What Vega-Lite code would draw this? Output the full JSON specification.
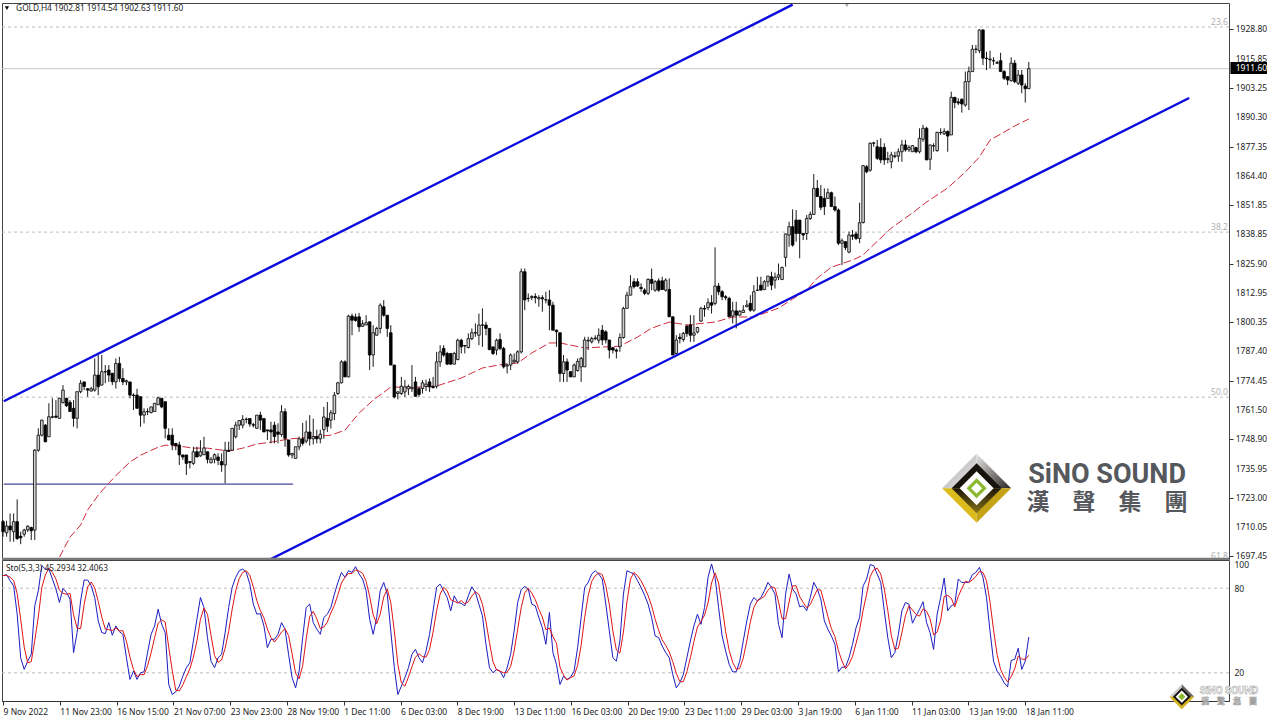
{"$schema":"https://vega.github.io/schema/vega-lite/v6.json","background":"white","padding":{"left":0,"top":2,"right":0,"bottom":0},"bounds":"flush","spacing":1,
"config":{"view":{"stroke":"#444","strokeWidth":1},"font":"Noto Sans","axis":{"labelFont":"Noto Sans","labelFontSize":8.5,"labelColor":"#222","tickColor":"#333"}},
"datasets":{
"bars":[
{"i":0,"o":1712.6,"h":1713.3,"l":1706,"c":1708.2,"k":88.9,"d":89},
{"i":1,"o":1707.7,"h":1713,"l":1706,"c":1710.7,"k":89.6,"d":89},
{"i":2,"o":1710.7,"h":1716.2,"l":1703.8,"c":1709,"k":85.3,"d":87.9},
{"i":3,"o":1708.2,"h":1716.2,"l":1703.8,"c":1712.6,"k":81.7,"d":85.5},
{"i":4,"o":1712.6,"h":1722.4,"l":1704.5,"c":1705.2,"k":61.6,"d":76.2},
{"i":5,"o":1706.2,"h":1708.2,"l":1702.7,"c":1705.5,"k":30.7,"d":58},
{"i":6,"o":1707.1,"h":1709.5,"l":1706,"c":1708.9,"k":22.4,"d":38.2},
{"i":7,"o":1709,"h":1711,"l":1708,"c":1710.6,"k":28.3,"d":27.1},
{"i":8,"o":1710,"h":1710.4,"l":1704.5,"c":1708.6,"k":33.1,"d":27.9},
{"i":9,"o":1708.9,"h":1744.5,"l":1704.5,"c":1744,"k":67.5,"d":43},
{"i":10,"o":1744,"h":1753.6,"l":1743.3,"c":1750.6,"k":78.2,"d":59.6},
{"i":11,"o":1750.6,"h":1757.4,"l":1750,"c":1757.2,"k":96,"d":80.6},
{"i":12,"o":1755,"h":1755.5,"l":1747.5,"c":1747.7,"k":93.6,"d":89.3},
{"i":13,"o":1749.9,"h":1764.6,"l":1749.9,"c":1758.7,"k":93.6,"d":94.4},
{"i":14,"o":1758.4,"h":1766.8,"l":1758,"c":1758.7,"k":86.5,"d":91.2},
{"i":15,"o":1759,"h":1766,"l":1758,"c":1758.5,"k":79.4,"d":86.5},
{"i":16,"o":1758,"h":1767,"l":1757.9,"c":1766.8,"k":69.9,"d":78.6},
{"i":17,"o":1764.9,"h":1772.6,"l":1764.5,"c":1770.4,"k":79.8,"d":76.4},
{"i":18,"o":1766.8,"h":1767,"l":1763,"c":1763.5,"k":77,"d":75.6},
{"i":19,"o":1765,"h":1766,"l":1760.9,"c":1761,"k":72.3,"d":76.4},
{"i":20,"o":1762.4,"h":1766,"l":1754.3,"c":1758,"k":34.3,"d":61.2},
{"i":21,"o":1758,"h":1769.7,"l":1753.6,"c":1769.7,"k":48.5,"d":51.7},
{"i":22,"o":1769.7,"h":1774.8,"l":1769,"c":1773.4,"k":71,"d":51.3},
{"i":23,"o":1774,"h":1774,"l":1770.4,"c":1772,"k":85.8,"d":68.4},
{"i":24,"o":1771,"h":1771.2,"l":1767.5,"c":1770.4,"k":85.8,"d":80.9},
{"i":25,"o":1770,"h":1771.9,"l":1769.7,"c":1771,"k":81.7,"d":84.4},
{"i":26,"o":1770.4,"h":1784.3,"l":1769.7,"c":1777,"k":73.4,"d":80.3},
{"i":27,"o":1777,"h":1785.8,"l":1768.2,"c":1771.9,"k":56.8,"d":70.6},
{"i":28,"o":1772.6,"h":1785.8,"l":1772.5,"c":1778.5,"k":48.5,"d":59.6},
{"i":29,"o":1778.5,"h":1781.4,"l":1773.4,"c":1778.4,"k":47.8,"d":51},
{"i":30,"o":1779.2,"h":1781.4,"l":1774,"c":1777,"k":55.6,"d":50.6},
{"i":31,"o":1777.8,"h":1777.8,"l":1772.6,"c":1774.1,"k":46.6,"d":50},
{"i":32,"o":1774,"h":1784.3,"l":1771.1,"c":1782.1,"k":53.3,"d":51.8},
{"i":33,"o":1782.1,"h":1785,"l":1774,"c":1775.5,"k":49.2,"d":49.7},
{"i":34,"o":1775.5,"h":1780,"l":1772.6,"c":1774,"k":47.3,"d":49.9},
{"i":35,"o":1774,"h":1775,"l":1772.6,"c":1774.5,"k":30.7,"d":42.4},
{"i":36,"o":1774,"h":1774,"l":1766.8,"c":1768.2,"k":15.3,"d":31.1},
{"i":37,"o":1768.2,"h":1769,"l":1761.6,"c":1768,"k":21.2,"d":22.4},
{"i":38,"o":1768.2,"h":1771,"l":1762.4,"c":1762.4,"k":15.3,"d":17.3},
{"i":39,"o":1767.5,"h":1767.5,"l":1754.3,"c":1759.4,"k":20,"d":18.8},
{"i":40,"o":1759.4,"h":1762.4,"l":1755.8,"c":1760.9,"k":20.7,"d":18.7},
{"i":41,"o":1760.9,"h":1762.4,"l":1759.4,"c":1761,"k":34.3,"d":25},
{"i":42,"o":1760.5,"h":1763.1,"l":1760.2,"c":1763,"k":47.3,"d":34.1},
{"i":43,"o":1761,"h":1764.6,"l":1761,"c":1764.6,"k":53.3,"d":45},
{"i":44,"o":1764,"h":1767.5,"l":1763.8,"c":1767,"k":65.1,"d":55.2},
{"i":45,"o":1766.8,"h":1766.8,"l":1762.4,"c":1763,"k":54.4,"d":57.6},
{"i":46,"o":1765.3,"h":1765.3,"l":1749.2,"c":1753.6,"k":48.5,"d":56},
{"i":47,"o":1750.6,"h":1753.6,"l":1748.4,"c":1748.5,"k":11.7,"d":38.2},
{"i":48,"o":1750.6,"h":1753.6,"l":1744,"c":1746.3,"k":4.6,"d":21.6},
{"i":49,"o":1747,"h":1747,"l":1744,"c":1746,"k":6.5,"d":7.6},
{"i":50,"o":1746.3,"h":1747.7,"l":1737.5,"c":1741.9,"k":10.5,"d":7.2},
{"i":51,"o":1741.9,"h":1742,"l":1739.7,"c":1741,"k":17.6,"d":11.5},
{"i":52,"o":1741.9,"h":1741.9,"l":1733.1,"c":1738.2,"k":23.6,"d":17.2},
{"i":53,"o":1739,"h":1739,"l":1736,"c":1738.6,"k":27.1,"d":22.8},
{"i":54,"o":1738.2,"h":1745.5,"l":1737.5,"c":1743.3,"k":42.6,"d":31.1},
{"i":55,"o":1743.3,"h":1745.5,"l":1741,"c":1741,"k":58,"d":42.6},
{"i":56,"o":1741.5,"h":1748.4,"l":1741.1,"c":1743.3,"k":73.4,"d":58},
{"i":57,"o":1742,"h":1749.9,"l":1741.9,"c":1745,"k":66.3,"d":65.9},
{"i":58,"o":1743.3,"h":1743.3,"l":1738.2,"c":1740,"k":44.9,"d":61.5},
{"i":59,"o":1738.5,"h":1741,"l":1738.2,"c":1740,"k":28.3,"d":46.5},
{"i":60,"o":1740,"h":1742.6,"l":1738.2,"c":1742,"k":23.6,"d":32.3},
{"i":61,"o":1741,"h":1742.6,"l":1737.5,"c":1739.5,"k":30.7,"d":27.5},
{"i":62,"o":1739,"h":1742.6,"l":1734.5,"c":1737.5,"k":33.1,"d":29.1},
{"i":63,"o":1737.5,"h":1747.7,"l":1729.4,"c":1744,"k":48.5,"d":37.4},
{"i":64,"o":1744,"h":1747.7,"l":1743.3,"c":1743.5,"k":66.3,"d":49.3},
{"i":65,"o":1744,"h":1753.6,"l":1744,"c":1753.6,"k":80.6,"d":65.1},
{"i":66,"o":1749.9,"h":1756.5,"l":1749.2,"c":1755,"k":87.7,"d":78.2},
{"i":67,"o":1755,"h":1757.2,"l":1752.9,"c":1757,"k":92.4,"d":86.9},
{"i":68,"o":1755,"h":1759.4,"l":1753.6,"c":1757.5,"k":93.6,"d":91.2},
{"i":69,"o":1757.5,"h":1758.4,"l":1755.8,"c":1757.6,"k":91.2,"d":92.4},
{"i":70,"o":1757.9,"h":1757.9,"l":1754.3,"c":1755.5,"k":82.9,"d":89.2},
{"i":71,"o":1755.2,"h":1756,"l":1754,"c":1755,"k":68.7,"d":80.9},
{"i":72,"o":1753.6,"h":1759.4,"l":1753.6,"c":1759.4,"k":61.6,"d":71.1},
{"i":73,"o":1759.4,"h":1760.9,"l":1752.9,"c":1757.2,"k":62,"d":64.1},
{"i":74,"o":1757.9,"h":1757.9,"l":1752,"c":1752,"k":53.3,"d":59},
{"i":75,"o":1752.9,"h":1753,"l":1748.5,"c":1752.5,"k":37.8,"d":51},
{"i":76,"o":1752.9,"h":1756.5,"l":1747,"c":1752,"k":43.8,"d":45},
{"i":77,"o":1755,"h":1756.5,"l":1747,"c":1750,"k":43.8,"d":41.8},
{"i":78,"o":1752,"h":1755.8,"l":1747,"c":1751,"k":47.3,"d":45},
{"i":79,"o":1750.9,"h":1763.8,"l":1749.9,"c":1760.9,"k":55.6,"d":48.9},
{"i":80,"o":1760.9,"h":1762.4,"l":1745.5,"c":1749.2,"k":50.9,"d":51.3},
{"i":81,"o":1748.5,"h":1748.5,"l":1741.1,"c":1741.9,"k":33.1,"d":46.5},
{"i":82,"o":1741.9,"h":1742.6,"l":1740.4,"c":1742.6,"k":16.5,"d":33.5},
{"i":83,"o":1740.4,"h":1745.5,"l":1740.4,"c":1745.5,"k":9.3,"d":19.6},
{"i":84,"o":1745.5,"h":1750,"l":1744,"c":1749,"k":21.2,"d":15.7},
{"i":85,"o":1749,"h":1756,"l":1746,"c":1747,"k":44.9,"d":25.1},
{"i":86,"o":1748,"h":1757,"l":1747,"c":1752,"k":66.3,"d":44.1},
{"i":87,"o":1752,"h":1759.4,"l":1746,"c":1749,"k":68.7,"d":60},
{"i":88,"o":1749,"h":1757.9,"l":1746.5,"c":1750,"k":55.6,"d":63.5},
{"i":89,"o":1750,"h":1753,"l":1747,"c":1749,"k":50.9,"d":58.4},
{"i":90,"o":1749,"h":1753,"l":1747,"c":1751,"k":47.3,"d":51.3},
{"i":91,"o":1753,"h":1763,"l":1749,"c":1758.6,"k":59.2,"d":52.5},
{"i":92,"o":1758,"h":1765.2,"l":1752,"c":1754.5,"k":61.6,"d":56},
{"i":93,"o":1757.2,"h":1761.6,"l":1753.5,"c":1760.4,"k":66.3,"d":62.4},
{"i":94,"o":1760.1,"h":1769.6,"l":1757.2,"c":1768.2,"k":75.8,"d":67.9},
{"i":95,"o":1768.9,"h":1774,"l":1768.2,"c":1773.6,"k":84.1,"d":75.4},
{"i":96,"o":1773.6,"h":1783.5,"l":1773.3,"c":1782.8,"k":91.2,"d":83.7},
{"i":97,"o":1782.8,"h":1783.5,"l":1776.2,"c":1776.2,"k":87.7,"d":87.7},
{"i":98,"o":1776.2,"h":1803.5,"l":1776,"c":1802.9,"k":92.4,"d":90.4},
{"i":99,"o":1802.9,"h":1804,"l":1794.5,"c":1801.1,"k":91.2,"d":90.4},
{"i":100,"o":1802.5,"h":1804,"l":1800.4,"c":1801,"k":95.3,"d":93},
{"i":101,"o":1802.6,"h":1804.3,"l":1796,"c":1798.2,"k":90.1,"d":92.2},
{"i":102,"o":1798.4,"h":1801.1,"l":1798.2,"c":1799.5,"k":86.5,"d":90.6},
{"i":103,"o":1799,"h":1803.3,"l":1799,"c":1800,"k":78.2,"d":84.9},
{"i":104,"o":1800.4,"h":1800.4,"l":1779.2,"c":1785.8,"k":58,"d":74.2},
{"i":105,"o":1785.8,"h":1798.9,"l":1780.6,"c":1795.6,"k":47.3,"d":61.2},
{"i":106,"o":1794.5,"h":1798.2,"l":1794.5,"c":1797.5,"k":59.2,"d":54.8},
{"i":107,"o":1797.5,"h":1808.5,"l":1795.3,"c":1807.7,"k":78.2,"d":61.6},
{"i":108,"o":1807,"h":1809.9,"l":1802.6,"c":1803.3,"k":84.1,"d":73.8},
{"i":109,"o":1803.3,"h":1803.3,"l":1793.8,"c":1797.5,"k":75.8,"d":79.4},
{"i":110,"o":1795.6,"h":1798.9,"l":1781.4,"c":1781.4,"k":49.7,"d":69.9},
{"i":111,"o":1781.4,"h":1781.4,"l":1766.7,"c":1767.4,"k":23.6,"d":49.7},
{"i":112,"o":1768.9,"h":1769.9,"l":1766.3,"c":1769.6,"k":4.6,"d":26},
{"i":113,"o":1768.9,"h":1776.2,"l":1768.2,"c":1772.1,"k":10.5,"d":12.9},
{"i":114,"o":1769.6,"h":1774.8,"l":1767.4,"c":1771.8,"k":16.5,"d":10.5},
{"i":115,"o":1771,"h":1772.8,"l":1768.2,"c":1772,"k":23.6,"d":16.9},
{"i":116,"o":1771,"h":1781.4,"l":1769.6,"c":1771.5,"k":33.1,"d":24.4},
{"i":117,"o":1774,"h":1776.2,"l":1767.4,"c":1767.7,"k":36.6,"d":31.1},
{"i":118,"o":1771,"h":1771.8,"l":1767.4,"c":1768.5,"k":30.7,"d":33.5},
{"i":119,"o":1771.1,"h":1774.8,"l":1768.9,"c":1773.6,"k":27.1,"d":31.5},
{"i":120,"o":1772,"h":1775,"l":1770,"c":1773,"k":35.5,"d":31.1},
{"i":121,"o":1774,"h":1775.5,"l":1769.6,"c":1771.8,"k":47.3,"d":36.6},
{"i":122,"o":1772,"h":1776.2,"l":1771.1,"c":1771.5,"k":64,"d":48.9},
{"i":123,"o":1772.1,"h":1787.2,"l":1771.1,"c":1782.8,"k":80.6,"d":64},
{"i":124,"o":1782.8,"h":1790.1,"l":1780.6,"c":1787.2,"k":82.9,"d":75.8},
{"i":125,"o":1788.7,"h":1790.1,"l":1785,"c":1785.8,"k":78.2,"d":80.6},
{"i":126,"o":1786.5,"h":1787.2,"l":1781.4,"c":1781.8,"k":73.4,"d":78.2},
{"i":127,"o":1786.5,"h":1786.5,"l":1781.4,"c":1781.8,"k":64,"d":71.9},
{"i":128,"o":1781.8,"h":1787.2,"l":1781.8,"c":1786.5,"k":74.6,"d":70.7},
{"i":129,"o":1783.8,"h":1793,"l":1783.5,"c":1792.3,"k":69.9,"d":69.5},
{"i":130,"o":1792.3,"h":1793,"l":1786.5,"c":1789.4,"k":69.2,"d":71.2},
{"i":131,"o":1790,"h":1790.1,"l":1786.5,"c":1789.8,"k":67.5,"d":68.9},
{"i":132,"o":1789.1,"h":1795.3,"l":1788.7,"c":1793,"k":74.6,"d":70.4},
{"i":133,"o":1793,"h":1797.5,"l":1792.3,"c":1795.6,"k":81,"d":74.4},
{"i":134,"o":1795.6,"h":1799.7,"l":1793.8,"c":1795.5,"k":77,"d":77.5},
{"i":135,"o":1794.5,"h":1804,"l":1790.1,"c":1799,"k":68.7,"d":75.6},
{"i":136,"o":1798.9,"h":1806.3,"l":1789.4,"c":1799,"k":60.4,"d":68.7},
{"i":137,"o":1799,"h":1800.4,"l":1794.5,"c":1797.5,"k":40.2,"d":56.4},
{"i":138,"o":1797.5,"h":1797.5,"l":1787.9,"c":1788.2,"k":23.6,"d":41.4},
{"i":139,"o":1789.4,"h":1789.4,"l":1785.8,"c":1786.5,"k":20,"d":27.9},
{"i":140,"o":1788,"h":1793,"l":1785.8,"c":1792.3,"k":22.4,"d":22},
{"i":141,"o":1792.6,"h":1795.3,"l":1787.9,"c":1788.7,"k":21.2,"d":21.2},
{"i":142,"o":1788.7,"h":1789.4,"l":1779.9,"c":1780.6,"k":16.5,"d":20},
{"i":143,"o":1781,"h":1782,"l":1777.7,"c":1781.4,"k":23.6,"d":20.4},
{"i":144,"o":1781.4,"h":1786.5,"l":1779.2,"c":1785.8,"k":33.1,"d":24.4},
{"i":145,"o":1782.8,"h":1786.5,"l":1782.1,"c":1783.5,"k":49.7,"d":35.5},
{"i":146,"o":1782.8,"h":1787.9,"l":1782.1,"c":1787.2,"k":69.9,"d":50.9},
{"i":147,"o":1787.2,"h":1823.8,"l":1786.5,"c":1822.4,"k":79,"d":66.2},
{"i":148,"o":1822.4,"h":1823.8,"l":1805.5,"c":1810,"k":81.3,"d":76.7},
{"i":149,"o":1810.6,"h":1812.9,"l":1809.2,"c":1810.7,"k":79.4,"d":79.9},
{"i":150,"o":1811,"h":1812.1,"l":1809.9,"c":1811.5,"k":68.7,"d":76.5},
{"i":151,"o":1811.5,"h":1812.9,"l":1808.5,"c":1811,"k":67.5,"d":71.9},
{"i":152,"o":1810.5,"h":1812.1,"l":1807,"c":1811,"k":59.2,"d":65.1},
{"i":153,"o":1811,"h":1812.1,"l":1804.8,"c":1810.5,"k":52,"d":59.6},
{"i":154,"o":1810,"h":1813.6,"l":1808.5,"c":1810.1,"k":40.2,"d":50.5},
{"i":155,"o":1810,"h":1814.3,"l":1796.7,"c":1807.7,"k":62.8,"d":51.7},
{"i":156,"o":1807.7,"h":1809.2,"l":1796.7,"c":1796.7,"k":34.3,"d":45.8},
{"i":157,"o":1796.7,"h":1797,"l":1789.4,"c":1796,"k":26,"d":41},
{"i":158,"o":1795.6,"h":1795.6,"l":1774,"c":1777.7,"k":11.7,"d":24},
{"i":159,"o":1777.7,"h":1785.8,"l":1774,"c":1782.8,"k":17.6,"d":18.4},
{"i":160,"o":1782.8,"h":1784.3,"l":1774,"c":1779.2,"k":15.3,"d":14.9},
{"i":161,"o":1778.5,"h":1778.5,"l":1776.2,"c":1776.2,"k":16.9,"d":16.6},
{"i":162,"o":1776.2,"h":1782.1,"l":1776.2,"c":1781.4,"k":21.2,"d":17.8},
{"i":163,"o":1779,"h":1784.3,"l":1778.5,"c":1783,"k":37.8,"d":25.3},
{"i":164,"o":1780.6,"h":1785,"l":1774,"c":1784.3,"k":59.2,"d":39.4},
{"i":165,"o":1780.6,"h":1793.8,"l":1780.6,"c":1792.4,"k":80.6,"d":59.2},
{"i":166,"o":1792,"h":1793.8,"l":1788,"c":1792.3,"k":84.1,"d":74.6},
{"i":167,"o":1791.6,"h":1793.8,"l":1790.9,"c":1793,"k":90,"d":84.9},
{"i":168,"o":1793,"h":1794.5,"l":1792.3,"c":1793.3,"k":92.4,"d":88.8},
{"i":169,"o":1792.3,"h":1797.5,"l":1790.9,"c":1794.5,"k":90,"d":90.8},
{"i":170,"o":1796.7,"h":1799,"l":1790.2,"c":1792.4,"k":86.5,"d":89.6},
{"i":171,"o":1796,"h":1796.7,"l":1790.9,"c":1792.4,"k":68.7,"d":81.7},
{"i":172,"o":1792.4,"h":1792.4,"l":1784.3,"c":1788,"k":49.7,"d":68.3},
{"i":173,"o":1789,"h":1789.4,"l":1786.5,"c":1788,"k":30.7,"d":49.7},
{"i":174,"o":1788,"h":1788.7,"l":1784.3,"c":1787.5,"k":28.3,"d":36.2},
{"i":175,"o":1789.4,"h":1795.3,"l":1787.2,"c":1793.5,"k":42.6,"d":33.9},
{"i":176,"o":1793.5,"h":1807,"l":1793,"c":1806.3,"k":75.8,"d":48.9},
{"i":177,"o":1806.3,"h":1813.6,"l":1806.3,"c":1812.1,"k":92.4,"d":70.3},
{"i":178,"o":1812.1,"h":1820.9,"l":1812.1,"c":1815.8,"k":91.2,"d":86.5},
{"i":179,"o":1818,"h":1819.5,"l":1815,"c":1815.8,"k":90.1,"d":91.2},
{"i":180,"o":1818,"h":1819.5,"l":1815.8,"c":1816.1,"k":85.3,"d":88.9},
{"i":181,"o":1815.5,"h":1817.3,"l":1813.6,"c":1815,"k":80.6,"d":85.3},
{"i":182,"o":1814.3,"h":1815.1,"l":1812.1,"c":1812.9,"k":75,"d":80.3},
{"i":183,"o":1812.9,"h":1819.5,"l":1812.1,"c":1819,"k":68.7,"d":74.8},
{"i":184,"o":1819,"h":1823.8,"l":1814.3,"c":1817.3,"k":59.2,"d":67.6},
{"i":185,"o":1814.3,"h":1818.7,"l":1813.6,"c":1818,"k":46.1,"d":58},
{"i":186,"o":1818.4,"h":1819.5,"l":1813.6,"c":1814.3,"k":44.9,"d":50.1},
{"i":187,"o":1818.4,"h":1820.2,"l":1814.3,"c":1814.6,"k":39,"d":43.3},
{"i":188,"o":1814.3,"h":1819.5,"l":1813.6,"c":1818.7,"k":34.3,"d":39.4},
{"i":189,"o":1814.6,"h":1819.5,"l":1802.6,"c":1802.6,"k":30.7,"d":34.7},
{"i":190,"o":1802.6,"h":1802.6,"l":1785.8,"c":1785.8,"k":18.8,"d":27.9},
{"i":191,"o":1786.5,"h":1794.5,"l":1785.8,"c":1792.4,"k":9.3,"d":19.6},
{"i":192,"o":1793.6,"h":1795.3,"l":1790.9,"c":1793,"k":12.9,"d":13.7},
{"i":193,"o":1792.6,"h":1796,"l":1791.6,"c":1795.3,"k":18.8,"d":13.7},
{"i":194,"o":1798.5,"h":1799,"l":1793.8,"c":1795.3,"k":30.7,"d":20.8},
{"i":195,"o":1799,"h":1803.3,"l":1791.6,"c":1794.5,"k":42.6,"d":30.7},
{"i":196,"o":1794.5,"h":1803.3,"l":1791.6,"c":1795.5,"k":53.3,"d":42.2},
{"i":197,"o":1795.9,"h":1798.2,"l":1795.3,"c":1797.9,"k":61.6,"d":52.5},
{"i":198,"o":1800.7,"h":1807,"l":1800.4,"c":1806.3,"k":54.4,"d":56.4},
{"i":199,"o":1806.3,"h":1807.7,"l":1802.6,"c":1806,"k":66.3,"d":60.8},
{"i":200,"o":1806.6,"h":1810.7,"l":1805.5,"c":1808.8,"k":87.7,"d":69.5},
{"i":201,"o":1808.8,"h":1812.1,"l":1804,"c":1807.7,"k":97.2,"d":83.7},
{"i":202,"o":1808.5,"h":1833.1,"l":1807.7,"c":1816.1,"k":87.7,"d":90.9},
{"i":203,"o":1816.1,"h":1817.5,"l":1812.1,"c":1813.6,"k":66.3,"d":83.7},
{"i":204,"o":1813.6,"h":1814.3,"l":1809.9,"c":1811.4,"k":46.1,"d":66.7},
{"i":205,"o":1811.4,"h":1812.1,"l":1809.9,"c":1811,"k":35.5,"d":49.3},
{"i":206,"o":1810.7,"h":1811.4,"l":1802.6,"c":1802.6,"k":26,"d":35.9},
{"i":207,"o":1802.9,"h":1809.2,"l":1799.7,"c":1805.2,"k":20.7,"d":27.4},
{"i":208,"o":1805.2,"h":1809.2,"l":1797.5,"c":1803.3,"k":20.7,"d":22.5},
{"i":209,"o":1803.3,"h":1805.5,"l":1803.3,"c":1805,"k":28.3,"d":23.2},
{"i":210,"o":1804.5,"h":1807.7,"l":1804.5,"c":1805.5,"k":42.6,"d":30.5},
{"i":211,"o":1807,"h":1809.9,"l":1807,"c":1807.7,"k":56.8,"d":42.6},
{"i":212,"o":1808.5,"h":1812.1,"l":1804.8,"c":1805.5,"k":68.7,"d":56},
{"i":213,"o":1805.5,"h":1816.5,"l":1804.8,"c":1813.6,"k":73.4,"d":66.3},
{"i":214,"o":1814.2,"h":1820.2,"l":1814,"c":1814.3,"k":71,"d":71},
{"i":215,"o":1816.5,"h":1820.2,"l":1814.3,"c":1814.3,"k":73.4,"d":72.6},
{"i":216,"o":1814.6,"h":1818.7,"l":1814.3,"c":1818,"k":78.2,"d":74.2},
{"i":217,"o":1818,"h":1820.5,"l":1815.8,"c":1820.5,"k":84.1,"d":78.6},
{"i":218,"o":1820.2,"h":1822.4,"l":1814.3,"c":1816.5,"k":80.6,"d":81},
{"i":219,"o":1818.7,"h":1822,"l":1815,"c":1820,"k":75.8,"d":80.2},
{"i":220,"o":1820,"h":1826,"l":1818.7,"c":1821,"k":54.4,"d":70.3},
{"i":221,"o":1819,"h":1824.6,"l":1818.7,"c":1824.3,"k":44.9,"d":58.4},
{"i":222,"o":1828.7,"h":1839.2,"l":1824.6,"c":1839,"k":75.8,"d":58.4},
{"i":223,"o":1838.5,"h":1844.4,"l":1833.4,"c":1842.2,"k":90,"d":70.2},
{"i":224,"o":1842.2,"h":1849.8,"l":1833.4,"c":1834.1,"k":79.4,"d":81.7},
{"i":225,"o":1845.1,"h":1849.5,"l":1835.6,"c":1839.2,"k":75.8,"d":81.7},
{"i":226,"o":1845.1,"h":1845.1,"l":1828.3,"c":1839.2,"k":66.8,"d":74},
{"i":227,"o":1839.2,"h":1839.2,"l":1836.3,"c":1838.5,"k":67.5,"d":70},
{"i":228,"o":1839.2,"h":1847.3,"l":1836.3,"c":1845.8,"k":64,"d":66.1},
{"i":229,"o":1845.8,"h":1848.8,"l":1845.1,"c":1847.6,"k":73.4,"d":68.3},
{"i":230,"o":1847.6,"h":1865.3,"l":1847.3,"c":1859,"k":84.1,"d":73.8},
{"i":231,"o":1859,"h":1862.7,"l":1855.4,"c":1855.4,"k":79.4,"d":79},
{"i":232,"o":1855.4,"h":1860.5,"l":1849.5,"c":1850.7,"k":72.3,"d":78.6},
{"i":233,"o":1854.6,"h":1859,"l":1847.3,"c":1851,"k":56.8,"d":69.5},
{"i":234,"o":1854.6,"h":1859,"l":1854.6,"c":1857.1,"k":50.9,"d":60},
{"i":235,"o":1857.1,"h":1857.6,"l":1851,"c":1851,"k":46.1,"d":51.3},
{"i":236,"o":1851,"h":1855.4,"l":1848.8,"c":1849.5,"k":40.2,"d":45.7},
{"i":237,"o":1849.5,"h":1850.2,"l":1834.1,"c":1834.9,"k":20.7,"d":35.7},
{"i":238,"o":1834.9,"h":1837,"l":1825.3,"c":1836,"k":24,"d":28.3},
{"i":239,"o":1835.6,"h":1835.6,"l":1831.9,"c":1833,"k":24,"d":22.9},
{"i":240,"o":1831,"h":1840,"l":1830.5,"c":1838.5,"k":30.7,"d":26.2},
{"i":241,"o":1838.5,"h":1840.7,"l":1836.3,"c":1838,"k":40.2,"d":31.6},
{"i":242,"o":1839,"h":1840,"l":1836.3,"c":1837,"k":52,"d":41},
{"i":243,"o":1837,"h":1852.7,"l":1834.9,"c":1843.9,"k":59.2,"d":50.5},
{"i":244,"o":1844,"h":1869.3,"l":1843.6,"c":1869,"k":81.7,"d":64.3},
{"i":245,"o":1868.5,"h":1869.3,"l":1865.6,"c":1866.3,"k":86.5,"d":75.8},
{"i":246,"o":1867,"h":1879.2,"l":1866.3,"c":1878.8,"k":96.7,"d":88.3},
{"i":247,"o":1878.8,"h":1879.5,"l":1877.3,"c":1879,"k":96,"d":93.1},
{"i":248,"o":1877.3,"h":1880.3,"l":1871.5,"c":1872.2,"k":90,"d":94.2},
{"i":249,"o":1877,"h":1881,"l":1870,"c":1871.5,"k":84.1,"d":90},
{"i":250,"o":1877,"h":1878.8,"l":1869.3,"c":1871.5,"k":64,"d":79.4},
{"i":251,"o":1872,"h":1875.1,"l":1870,"c":1871.8,"k":44.9,"d":64.3},
{"i":252,"o":1870.7,"h":1875.1,"l":1867.8,"c":1873.7,"k":30.7,"d":46.5},
{"i":253,"o":1873,"h":1875.1,"l":1872.2,"c":1873.3,"k":34.3,"d":36.6},
{"i":254,"o":1873.2,"h":1876.6,"l":1870.7,"c":1875.1,"k":47.3,"d":37.4},
{"i":255,"o":1875.1,"h":1880.3,"l":1870.7,"c":1878.1,"k":64,"d":48.5},
{"i":256,"o":1878.1,"h":1880.3,"l":1875.1,"c":1875.9,"k":69.9,"d":60.4},
{"i":257,"o":1876,"h":1878,"l":1875,"c":1877,"k":68.7,"d":67.5},
{"i":258,"o":1875.1,"h":1878,"l":1875,"c":1877.8,"k":55.2,"d":64.6},
{"i":259,"o":1876.9,"h":1877.3,"l":1874.4,"c":1875.1,"k":60.4,"d":61.4},
{"i":260,"o":1875.1,"h":1885.4,"l":1874.4,"c":1881,"k":65,"d":60.2},
{"i":261,"o":1880.6,"h":1886.9,"l":1879.5,"c":1885.4,"k":70.4,"d":65.3},
{"i":262,"o":1885.4,"h":1886.1,"l":1871.5,"c":1871.5,"k":55.6,"d":63.7},
{"i":263,"o":1871.8,"h":1878.1,"l":1867.1,"c":1878.1,"k":48.5,"d":58.2},
{"i":264,"o":1877.6,"h":1878.8,"l":1875.1,"c":1877.8,"k":36.6,"d":46.9},
{"i":265,"o":1875.6,"h":1883.9,"l":1875.1,"c":1883.6,"k":61.6,"d":48.9},
{"i":266,"o":1883.5,"h":1885.4,"l":1882.5,"c":1883.6,"k":73.4,"d":57.2},
{"i":267,"o":1883,"h":1885.4,"l":1882.5,"c":1884,"k":87.2,"d":74.1},
{"i":268,"o":1884,"h":1884.5,"l":1875.1,"c":1882,"k":64,"d":74.9},
{"i":269,"o":1882.5,"h":1901.5,"l":1882.5,"c":1899,"k":67.5,"d":72.9},
{"i":270,"o":1899,"h":1899,"l":1894.2,"c":1896.7,"k":68.7,"d":66.7},
{"i":271,"o":1897,"h":1898.6,"l":1895.6,"c":1896.5,"k":86.5,"d":74.2},
{"i":272,"o":1898.1,"h":1898.6,"l":1892.3,"c":1896.1,"k":84.1,"d":79.8},
{"i":273,"o":1895.6,"h":1910.3,"l":1894.9,"c":1905.9,"k":84.1,"d":84.9},
{"i":274,"o":1905.9,"h":1912.5,"l":1893.4,"c":1910.3,"k":84.1,"d":84.1},
{"i":275,"o":1910.3,"h":1922,"l":1910.3,"c":1920.1,"k":89.6,"d":85.9},
{"i":276,"o":1920.1,"h":1922,"l":1918.4,"c":1920.2,"k":91.2,"d":88.3},
{"i":277,"o":1919.5,"h":1928.9,"l":1918.4,"c":1928.6,"k":94.8,"d":91.9},
{"i":278,"o":1928.6,"h":1928.9,"l":1913.2,"c":1916.2,"k":87.7,"d":91.2},
{"i":279,"o":1916.2,"h":1919,"l":1911,"c":1916,"k":73.4,"d":85.3},
{"i":280,"o":1915.8,"h":1919.5,"l":1911.8,"c":1915.5,"k":49.7,"d":70.3},
{"i":281,"o":1915.1,"h":1916.6,"l":1913.2,"c":1915,"k":28.3,"d":50.5},
{"i":282,"o":1914.2,"h":1915,"l":1913.9,"c":1914,"k":21.2,"d":33.1},
{"i":283,"o":1915.1,"h":1918.6,"l":1910.3,"c":1910.3,"k":17.6,"d":22.4},
{"i":284,"o":1910.3,"h":1911,"l":1906.6,"c":1907.4,"k":12.9,"d":17.2},
{"i":285,"o":1908.1,"h":1908.1,"l":1904.4,"c":1906.6,"k":10,"d":13.5},
{"i":286,"o":1906.3,"h":1916.6,"l":1905.9,"c":1914,"k":28.8,"d":17.2},
{"i":287,"o":1914,"h":1915.4,"l":1905.2,"c":1905.9,"k":29.5,"d":22.8},
{"i":288,"o":1905.2,"h":1911,"l":1904.4,"c":1908.8,"k":37.4,"d":31.9},
{"i":289,"o":1908.8,"h":1911,"l":1900.8,"c":1904.4,"k":22.4,"d":29.8},
{"i":290,"o":1904,"h":1905.2,"l":1896.7,"c":1902.8,"k":28.3,"d":29.4},
{"i":291,"o":1902.81,"h":1914.54,"l":1902.63,"c":1911.6,"k":45.29,"d":32.41}
],
"ma":[{"i":16,"p":1697},{"i":19,"p":1705.8},{"i":22,"p":1711.1},{"i":24,"p":1717.7},{"i":27,"p":1724.3},{"i":30,"p":1729.5},{"i":33,"p":1734.4},{"i":36,"p":1738.8},{"i":39,"p":1741.8},{"i":44,"p":1745.3},{"i":46,"p":1746.2},{"i":50,"p":1745.8},{"i":54,"p":1744.9},{"i":58,"p":1744.9},{"i":64,"p":1743.6},{"i":68,"p":1744.9},{"i":72,"p":1746.7},{"i":76,"p":1747.5},{"i":81,"p":1748.9},{"i":87,"p":1749.7},{"i":93,"p":1750.6},{"i":97,"p":1752.8},{"i":101,"p":1760.3},{"i":105,"p":1766},{"i":110,"p":1771.7},{"i":118,"p":1771.7},{"i":123,"p":1772.2},{"i":130,"p":1775.7},{"i":136,"p":1780.1},{"i":142,"p":1781.8},{"i":146,"p":1782.3},{"i":150,"p":1786.7},{"i":155,"p":1791.1},{"i":158,"p":1791.1},{"i":165,"p":1788.9},{"i":170,"p":1789.3},{"i":175,"p":1789.7},{"i":180,"p":1793.7},{"i":184,"p":1797.6},{"i":189,"p":1800.3},{"i":194,"p":1799},{"i":202,"p":1800.3},{"i":207,"p":1802.5},{"i":213,"p":1802.5},{"i":220,"p":1806.4},{"i":224,"p":1810.4},{"i":228,"p":1814.3},{"i":231,"p":1819.6},{"i":235,"p":1824.4},{"i":241,"p":1827.5},{"i":244,"p":1829.7},{"i":246,"p":1832.8},{"i":252,"p":1841.6},{"i":258,"p":1848.2},{"i":262,"p":1853},{"i":268,"p":1859.2},{"i":273,"p":1866.2},{"i":277,"p":1872.8},{"i":280,"p":1880.2},{"i":287,"p":1886.4},{"i":291,"p":1889.5}],
"channel":[{"g":"upper","i":0.2,"p":1765.5},{"g":"upper","i":224,"p":1939.7},{"g":"lower","i":76,"p":1696.2},{"g":"lower","i":336.5,"p":1898.7}],
"level":[{"i":0.2,"p":1729.1},{"i":82.3,"p":1729.1}],
"fibo":[{"p":1929.9,"label":"23.6"},{"p":1839.8,"label":"38.2"},{"p":1767.3,"label":"50.0"},{"p":1695.2,"label":"61.8"}],
"stolevels":[{"v":20},{"v":80}],
"pricetick":[{"p":1928.8},{"p":1915.85},{"p":1903.25},{"p":1890.3},{"p":1877.35},{"p":1864.4},{"p":1851.85},{"p":1838.85},{"p":1825.9},{"p":1812.95},{"p":1800.35},{"p":1787.4},{"p":1774.45},{"p":1761.5},{"p":1748.9},{"p":1735.95},{"p":1723},{"p":1710.05},{"p":1697.45}]
},
"vconcat":[
{"width":1227,"height":556,"layer":[
{"data":{"name":"fibo"},"mark":{"type":"rule","strokeDash":[3,3],"color":"#bdbdbd","strokeWidth":1,"clip":true},"encoding":{"y":{"field":"p","type":"quantitative","title":null,"scale":{"domain":[1696.2,1940.44],"nice":false,"zero":false},"axis":{"orient":"right","title":null,"values":[1928.8,1915.85,1903.25,1890.3,1877.35,1864.4,1851.85,1838.85,1825.9,1812.95,1800.35,1787.4,1774.45,1761.5,1748.9,1735.95,1723,1710.05,1697.45],"labels":false,"grid":false,"domain":false,"tickSize":4}}}},
{"data":{"name":"fibo"},"mark":{"type":"text","align":"right","dy":-5,"fontSize":8.5,"font":"Noto Sans","color":"#b0b0b0","clip":true},"encoding":{"x":{"datum":347.5,"type":"quantitative","scale":{"domain":[-0.3,347.8],"nice":false,"zero":false,"padding":0},"axis":null},"y":{"field":"p","type":"quantitative","scale":{"domain":[1696.2,1940.44],"nice":false,"zero":false}},"text":{"field":"label"}}},
{"data":{"name":"pricetick"},"mark":{"type":"text","align":"left","baseline":"middle","fontSize":8.5,"font":"Noto Sans","color":"#222"},"encoding":{"x":{"datum":349.7,"type":"quantitative","scale":{"domain":[-0.3,347.8],"nice":false,"zero":false,"padding":0}},"y":{"field":"p","type":"quantitative","scale":{"domain":[1696.2,1940.44],"nice":false,"zero":false}},"text":{"field":"p","type":"quantitative","format":".2f"}}},
{"data":{"values":[{"p":1911.6}]},"mark":{"type":"rule","color":"#c8c8c8","strokeWidth":1},"encoding":{"y":{"field":"p","type":"quantitative","scale":{"domain":[1696.2,1940.44],"nice":false,"zero":false}}}},
{"data":{"name":"level"},"mark":{"type":"line","color":"#1a1a80","strokeWidth":1},"encoding":{"x":{"field":"i","type":"quantitative","scale":{"domain":[-0.3,347.8],"nice":false,"zero":false,"padding":0}},"y":{"field":"p","type":"quantitative","scale":{"domain":[1696.2,1940.44],"nice":false,"zero":false}}}},
{"data":{"name":"ma"},"mark":{"type":"line","color":"#cf2a3c","strokeWidth":1,"strokeDash":[8,3],"clip":true},"encoding":{"x":{"field":"i","type":"quantitative","scale":{"domain":[-0.3,347.8],"nice":false,"zero":false,"padding":0}},"y":{"field":"p","type":"quantitative","scale":{"domain":[1696.2,1940.44],"nice":false,"zero":false}}}},
{"data":{"name":"bars"},"mark":{"type":"rule","color":"#000","strokeWidth":0.9},"encoding":{"x":{"field":"i","type":"quantitative","scale":{"domain":[-0.3,347.8],"nice":false,"zero":false,"padding":0}},"y":{"field":"l","type":"quantitative","scale":{"domain":[1696.2,1940.44],"nice":false,"zero":false}},"y2":{"field":"h"}}},
{"data":{"name":"bars"},"mark":{"type":"bar","orient":"vertical","width":2.6,"stroke":"#000","strokeWidth":0.8},"encoding":{"x":{"field":"i","type":"quantitative","scale":{"domain":[-0.3,347.8],"nice":false,"zero":false,"padding":0}},"y":{"field":"o","type":"quantitative","scale":{"domain":[1696.2,1940.44],"nice":false,"zero":false}},"y2":{"field":"c"},"fill":{"condition":{"test":"datum.c>datum.o","value":"#cfcfcf"},"value":"#000"}}},
{"data":{"name":"channel"},"mark":{"type":"line","color":"#0b0be0","strokeWidth":2.4,"clip":true},"encoding":{"detail":{"field":"g"},"x":{"field":"i","type":"quantitative","scale":{"domain":[-0.3,347.8],"nice":false,"zero":false,"padding":0}},"y":{"field":"p","type":"quantitative","scale":{"domain":[1696.2,1940.44],"nice":false,"zero":false}}}},
{"data":{"values":[{}]},"mark":{"type":"rect","color":"#7a7a7a"},"encoding":{"x":{"datum":-0.3,"type":"quantitative","scale":{"domain":[-0.3,347.8],"nice":false,"zero":false,"padding":0}},"x2":{"datum":347.8},"y":{"datum":1696.8,"type":"quantitative","scale":{"domain":[1696.2,1940.44],"nice":false,"zero":false}},"y2":{"datum":1695.7}}},
{"data":{"values":[{}]},"mark":{"type":"point","shape":"triangle-down","filled":true,"size":14,"color":"#aaa","opacity":1},"encoding":{"x":{"datum":239.4,"type":"quantitative","scale":{"domain":[-0.3,347.8],"nice":false,"zero":false,"padding":0}},"y":{"datum":1939.3,"type":"quantitative","scale":{"domain":[1696.2,1940.44],"nice":false,"zero":false}}}},
{"data":{"values":[{}]},"mark":{"type":"point","shape":"triangle-down","filled":true,"size":18,"color":"#000","opacity":1},"encoding":{"x":{"datum":1.1,"type":"quantitative","scale":{"domain":[-0.3,347.8],"nice":false,"zero":false,"padding":0}},"y":{"datum":1938.2,"type":"quantitative","scale":{"domain":[1696.2,1940.44],"nice":false,"zero":false}}}},
{"data":{"values":[{}]},"mark":{"type":"text","align":"left","fontSize":8.3,"font":"Noto Sans","color":"#222","text":"GOLD,H4  1902.81 1914.54 1902.63 1911.60"},"encoding":{"x":{"datum":3.7,"type":"quantitative","scale":{"domain":[-0.3,347.8],"nice":false,"zero":false,"padding":0}},"y":{"datum":1937.8,"type":"quantitative","scale":{"domain":[1696.2,1940.44],"nice":false,"zero":false}}}},
{"data":{"values":[{}]},"mark":{"type":"rect","color":"#000"},"encoding":{"x":{"datum":348.2,"type":"quantitative","scale":{"domain":[-0.3,347.8],"nice":false,"zero":false,"padding":0}},"x2":{"datum":358.8},"y":{"datum":1914.5,"type":"quantitative","scale":{"domain":[1696.2,1940.44],"nice":false,"zero":false}},"y2":{"datum":1909.2}}},
{"data":{"values":[{}]},"mark":{"type":"text","align":"left","fontSize":8.5,"font":"Noto Sans","color":"#fff","text":"1911.60"},"encoding":{"x":{"datum":349.7,"type":"quantitative","scale":{"domain":[-0.3,347.8],"nice":false,"zero":false,"padding":0}},"y":{"datum":1911.8,"type":"quantitative","scale":{"domain":[1696.2,1940.44],"nice":false,"zero":false}}}},
{"data":{"values":[{}]},"encoding":{"x":{"datum":276.2,"type":"quantitative","scale":{"domain":[-0.3,347.8],"nice":false,"zero":false,"padding":0}},"y":{"datum":1727.3,"type":"quantitative","scale":{"domain":[1696.2,1940.44],"nice":false,"zero":false}}},"layer":[
{"mark":{"type":"point","filled":true,"opacity":1,"size":4761,"shape":"M-1 0L0 -1L0 0Z","color":{"gradient":"linear","x1":1,"y1":1,"x2":0,"y2":0,"stops":[{"offset":0,"color":"#f5f5f5"},{"offset":1,"color":"#9a9a9a"}]}}},
{"mark":{"type":"point","filled":true,"opacity":1,"size":4761,"shape":"M0 -1L1 0L0 0Z","color":{"gradient":"linear","x1":0,"y1":0,"x2":1,"y2":1,"stops":[{"offset":0,"color":"#e8e8e8"},{"offset":1,"color":"#2a2622"}]}}},
{"mark":{"type":"point","filled":true,"opacity":1,"size":4761,"shape":"M-1 0L0 1L0 0Z","color":"#dcbc1c"}},
{"mark":{"type":"point","filled":true,"opacity":1,"size":4761,"shape":"M1 0L0 1L0 0Z","color":"#c4a416"}},
{"mark":{"type":"point","filled":true,"opacity":1,"size":2500,"shape":"M-1 0L0 -1L1 0Z","color":"#16120c"}},
{"mark":{"type":"point","filled":true,"opacity":1,"size":2500,"shape":"M-1 0L0 1L1 0Z","color":{"gradient":"linear","x1":0,"y1":0,"x2":0,"y2":1,"stops":[{"offset":0,"color":"#1a1408"},{"offset":1,"color":"#8a7418"}]}}},
{"mark":{"type":"point","filled":true,"opacity":1,"size":1156,"shape":"M-1 0L0 -1L1 0L0 1Z","color":"#fdfdfd"}},
{"mark":{"type":"point","filled":true,"opacity":1,"size":400,"shape":"M-1 0L0 -1L1 0L0 1Z","color":"#8ab82e"}},
{"mark":{"type":"point","filled":true,"opacity":1,"size":120,"shape":"M-1 0L0 -1L1 0L0 1Z","color":"#fff"}}
]},
{"data":{"values":[{}]},"mark":{"type":"text","align":"center","baseline":"middle","font":"Roboto","fontWeight":"bold","fontSize":27,"color":"#55585c","text":"SiNO SOUND"},"encoding":{"x":{"datum":313.2,"type":"quantitative","scale":{"domain":[-0.3,347.8],"nice":false,"zero":false,"padding":0}},"y":{"datum":1732.9,"type":"quantitative","scale":{"domain":[1696.2,1940.44],"nice":false,"zero":false}}}},
{"data":{"values":[{}]},"mark":{"type":"text","align":"center","baseline":"middle","font":"Noto Sans CJK TC","fontWeight":"bold","fontSize":23,"color":"#55585c","text":"漢　聲　集　團"},"encoding":{"x":{"datum":313.2,"type":"quantitative","scale":{"domain":[-0.3,347.8],"nice":false,"zero":false,"padding":0}},"y":{"datum":1720.6,"type":"quantitative","scale":{"domain":[1696.2,1940.44],"nice":false,"zero":false}}}}
]},
{"width":1227,"height":141,"layer":[
{"data":{"name":"stolevels"},"mark":{"type":"rule","strokeDash":[3,3],"color":"#bdbdbd","strokeWidth":1},"encoding":{"y":{"field":"v","type":"quantitative","scale":{"domain":[0,100],"nice":false,"zero":false},"axis":{"orient":"right","title":null,"values":[20,80,100],"grid":false,"domain":false,"ticks":false,"labelPadding":5,"labelOverlap":false,"labelBound":false,"labelFlush":false,"labelBaseline":{"condition":{"test":"datum.value==100","value":"top"},"value":"middle"}}}}},
{"data":{"name":"bars"},"mark":{"type":"line","color":"#1c1cc0","strokeWidth":1},"encoding":{"x":{"field":"i","type":"quantitative","scale":{"domain":[-0.3,347.8],"nice":false,"zero":false},"axis":{"orient":"bottom","title":null,"values":[0,16.11,32.22,48.33,64.44,80.55,96.66,112.77,128.88,144.99,161.1,177.21,193.32,209.43,225.54,241.65,257.76,273.87,289.98],"labelExpr":"['9 Nov 2022','11 Nov 23:00','16 Nov 15:00','21 Nov 07:00','23 Nov 23:00','28 Nov 19:00','1 Dec 11:00','6 Dec 03:00','8 Dec 19:00','13 Dec 11:00','16 Dec 03:00','20 Dec 19:00','23 Dec 11:00','29 Dec 03:00','3 Jan 19:00','6 Jan 11:00','11 Jan 03:00','13 Jan 19:00','18 Jan 11:00'][round(datum.value/16.11)]","labelAlign":"left","labelAngle":0,"labelOverlap":false,"labelBound":false,"labelFlush":false,"tickSize":4,"labelPadding":2,"grid":false,"domain":true,"domainColor":"#333"}},"y":{"field":"k","type":"quantitative","scale":{"domain":[0,100],"nice":false,"zero":false}}}},
{"data":{"name":"bars"},"mark":{"type":"line","color":"#e01414","strokeWidth":1},"encoding":{"x":{"field":"i","type":"quantitative","scale":{"domain":[-0.3,347.8],"nice":false,"zero":false}},"y":{"field":"d","type":"quantitative","scale":{"domain":[0,100],"nice":false,"zero":false}}}},
{"data":{"values":[{}]},"mark":{"type":"text","align":"left","fontSize":8.3,"font":"Noto Sans","color":"#222","text":"Sto(5,3,3) 45.2934 32.4063"},"encoding":{"x":{"datum":0.85,"type":"quantitative","scale":{"domain":[-0.3,347.8],"nice":false,"zero":false}},"y":{"datum":93.5,"type":"quantitative","scale":{"domain":[0,100],"nice":false,"zero":false}}}},
{"data":{"values":[{}]},"encoding":{"x":{"datum":334.4,"type":"quantitative","scale":{"domain":[-0.3,347.8],"nice":false,"zero":false}},"y":{"datum":3.1,"type":"quantitative","scale":{"domain":[0,100],"nice":false,"zero":false}}},"layer":[
{"mark":{"type":"point","filled":true,"opacity":1,"size":625,"shape":"M-1 0L0 -1L0 0Z","color":"#cfcfcf"}},
{"mark":{"type":"point","filled":true,"opacity":1,"size":625,"shape":"M0 -1L1 0L0 0Z","color":"#6a6560"}},
{"mark":{"type":"point","filled":true,"opacity":1,"size":625,"shape":"M-1 0L0 1L1 0Z","color":"#d4b41c"}},
{"mark":{"type":"point","filled":true,"opacity":1,"size":320,"shape":"M-1 0L0 -1L1 0L0 1Z","color":"#1a1510"}},
{"mark":{"type":"point","filled":true,"opacity":1,"size":150,"shape":"M-1 0L0 -1L1 0L0 1Z","color":"#fff"}},
{"mark":{"type":"point","filled":true,"opacity":1,"size":50,"shape":"M-1 0L0 -1L1 0L0 1Z","color":"#8ab82e"}}
]},
{"data":{"values":[{}]},"mark":{"type":"text","align":"center","baseline":"middle","font":"Roboto","fontWeight":"bold","fontSize":10,"color":"#fff","stroke":"#9a9a9a","strokeWidth":0.5,"text":"SiNO SOUND"},"encoding":{"x":{"datum":347.8,"type":"quantitative","scale":{"domain":[-0.3,347.8],"nice":false,"zero":false}},"y":{"datum":7.4,"type":"quantitative","scale":{"domain":[0,100],"nice":false,"zero":false}}}},
{"data":{"values":[{}]},"mark":{"type":"text","align":"center","baseline":"middle","font":"Noto Sans CJK TC","fontWeight":"bold","fontSize":8,"color":"#fff","stroke":"#9a9a9a","strokeWidth":0.5,"text":"漢　聲　集　團"},"encoding":{"x":{"datum":347.8,"type":"quantitative","scale":{"domain":[-0.3,347.8],"nice":false,"zero":false}},"y":{"datum":-0.4,"type":"quantitative","scale":{"domain":[0,100],"nice":false,"zero":false}}}}
]}
]}
